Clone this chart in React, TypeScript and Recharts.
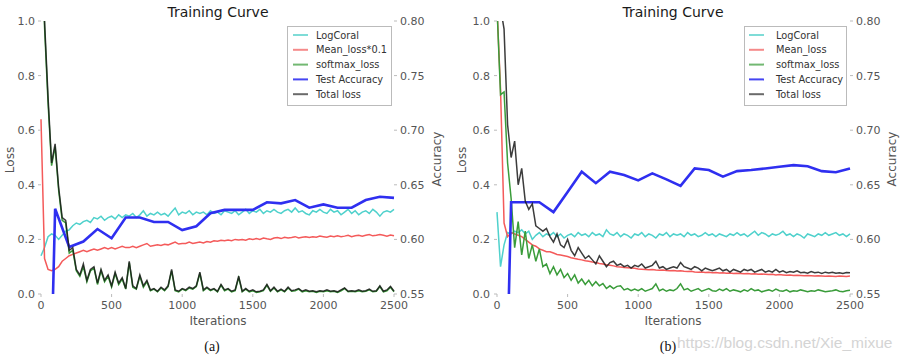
import React from 'react';
import { LineChart, Line, XAxis, YAxis } from 'recharts';

const ITERATIONS = [
  0, 25, 50, 75, 100, 125, 150, 175, 200, 225,
  250, 275, 300, 325, 350, 375, 400, 425, 450, 475,
  500, 525, 550, 575, 600, 625, 650, 675, 700, 725,
  750, 775, 800, 825, 850, 875, 900, 925, 950, 975,
  1000, 1025, 1050, 1075, 1100, 1125, 1150, 1175, 1200, 1225,
  1250, 1275, 1300, 1325, 1350, 1375, 1400, 1425, 1450, 1475,
  1500, 1525, 1550, 1575, 1600, 1625, 1650, 1675, 1700, 1725,
  1750, 1775, 1800, 1825, 1850, 1875, 1900, 1925, 1950, 1975,
  2000, 2025, 2050, 2075, 2100, 2125, 2150, 2175, 2200, 2225,
  2250, 2275, 2300, 2325, 2350, 2375, 2400, 2425, 2450, 2475,
  2500,
];

// ---------- panel (a) ----------
const A_LOGCORAL = [
  0.14, 0.17, 0.21, 0.22, 0.215, 0.2, 0.215, 0.23, 0.235, 0.25,
  0.26, 0.255, 0.265, 0.27, 0.262, 0.28, 0.275, 0.285, 0.27, 0.28,
  0.285, 0.275, 0.29, 0.28, 0.29, 0.285, 0.295, 0.28, 0.29, 0.305,
  0.285, 0.295, 0.29, 0.3, 0.29, 0.295, 0.285, 0.3, 0.315, 0.29,
  0.3, 0.295, 0.305, 0.29, 0.3, 0.295, 0.3, 0.29, 0.305, 0.295,
  0.3, 0.29, 0.305, 0.3, 0.295, 0.305, 0.29, 0.3, 0.31, 0.295,
  0.305, 0.3, 0.31, 0.295, 0.305, 0.3, 0.31, 0.3, 0.295, 0.305,
  0.31, 0.3, 0.315, 0.3, 0.305, 0.295, 0.29, 0.305, 0.3, 0.31,
  0.3, 0.295, 0.31, 0.3, 0.305, 0.29, 0.3, 0.31, 0.295, 0.305,
  0.29, 0.3, 0.305, 0.295, 0.31, 0.3, 0.285, 0.3, 0.305, 0.3,
  0.31,
];
const A_MEAN = [
  0.64, 0.13, 0.09, 0.085, 0.09, 0.1, 0.12, 0.13, 0.14, 0.145,
  0.15, 0.155, 0.16, 0.155, 0.16, 0.165, 0.16, 0.165, 0.17, 0.165,
  0.17, 0.165, 0.17, 0.175, 0.17, 0.17, 0.175, 0.17, 0.175, 0.18,
  0.185, 0.175, 0.178, 0.18, 0.178, 0.182, 0.18, 0.185, 0.19, 0.183,
  0.185, 0.185, 0.19, 0.185, 0.188, 0.19, 0.187, 0.192, 0.19, 0.195,
  0.193, 0.197, 0.195, 0.198, 0.195, 0.2, 0.198, 0.2, 0.197, 0.202,
  0.2, 0.203, 0.2, 0.205, 0.202, 0.2, 0.205, 0.207, 0.203, 0.208,
  0.205, 0.207, 0.21, 0.205, 0.208, 0.21, 0.207, 0.21, 0.208, 0.212,
  0.21, 0.208, 0.212, 0.21, 0.213, 0.21, 0.212, 0.215, 0.21, 0.213,
  0.215, 0.212, 0.215, 0.218, 0.213, 0.215, 0.218, 0.215, 0.212, 0.216,
  0.213,
];
const A_SOFTMAX = [
  1.55, 0.98, 0.7, 0.47, 0.54, 0.38, 0.27, 0.26, 0.15, 0.16,
  0.085, 0.065, 0.1, 0.045, 0.085, 0.095, 0.035, 0.085, 0.045, 0.065,
  0.025, 0.075, 0.035, 0.055, 0.018, 0.115, 0.025, 0.018, 0.065, 0.025,
  0.045, 0.012, 0.018, 0.008, 0.022, 0.012, 0.027, 0.085, 0.012, 0.008,
  0.018, 0.012, 0.022, 0.018, 0.027, 0.075, 0.012, 0.022, 0.012, 0.018,
  0.008, 0.032, 0.012, 0.018, 0.008, 0.012, 0.06, 0.008, 0.018, 0.008,
  0.012, 0.006, 0.008, 0.012, 0.032, 0.01, 0.022, 0.008, 0.015, 0.008,
  0.022, 0.01, 0.012, 0.018, 0.008, 0.012, 0.008, 0.01, 0.006, 0.01,
  0.008, 0.012, 0.008, 0.01, 0.006, 0.012, 0.02, 0.008, 0.01, 0.008,
  0.012, 0.008, 0.01, 0.015, 0.008, 0.01, 0.027, 0.008, 0.012, 0.025,
  0.008,
];
const A_TOTAL = [
  1.6, 1.0, 0.72, 0.48, 0.55, 0.39, 0.28, 0.27, 0.16, 0.17,
  0.09, 0.07, 0.11, 0.05, 0.09, 0.1, 0.04, 0.09, 0.05, 0.07,
  0.03, 0.08, 0.04, 0.06, 0.02, 0.12, 0.03, 0.02, 0.07, 0.03,
  0.05, 0.015, 0.02, 0.01, 0.025, 0.015, 0.03, 0.09, 0.015, 0.01,
  0.02, 0.015, 0.025, 0.02, 0.03, 0.08, 0.015, 0.025, 0.015, 0.02,
  0.01, 0.035, 0.015, 0.02, 0.01, 0.015, 0.065, 0.01, 0.02, 0.01,
  0.015, 0.008, 0.01, 0.015, 0.035, 0.012, 0.025, 0.01, 0.018, 0.01,
  0.025, 0.012, 0.015, 0.02, 0.01, 0.015, 0.01, 0.012, 0.008, 0.012,
  0.01, 0.015, 0.01, 0.012, 0.008, 0.015, 0.022, 0.01, 0.012, 0.01,
  0.015, 0.01, 0.012, 0.018, 0.01, 0.012, 0.03, 0.01, 0.015, 0.028,
  0.01,
];

// ---------- panel (b) ----------
const B_LOGCORAL = [
  0.3, 0.1, 0.18, 0.225, 0.22, 0.23, 0.225, 0.235, 0.22, 0.23,
  0.2, 0.215, 0.225, 0.21, 0.22, 0.215, 0.225, 0.21, 0.22, 0.205,
  0.215, 0.22, 0.21, 0.225, 0.215, 0.22, 0.21, 0.225, 0.215, 0.22,
  0.21, 0.235, 0.22, 0.215, 0.225, 0.21, 0.22, 0.215, 0.205, 0.22,
  0.215, 0.225, 0.21, 0.22, 0.215, 0.205, 0.22, 0.215, 0.225, 0.21,
  0.22, 0.215, 0.22, 0.21, 0.225, 0.215, 0.22, 0.21, 0.215, 0.225,
  0.215, 0.22, 0.21, 0.22, 0.215, 0.21, 0.22, 0.215, 0.225, 0.215,
  0.22, 0.21, 0.22, 0.23, 0.215, 0.225, 0.22, 0.21, 0.22, 0.215,
  0.22, 0.23, 0.215, 0.22, 0.21, 0.22, 0.215, 0.205, 0.22, 0.215,
  0.21, 0.22, 0.215, 0.225, 0.215, 0.22, 0.225, 0.215, 0.22, 0.21,
  0.22,
];
const B_MEAN = [
  1.05, 0.75, 0.26, 0.21, 0.225, 0.22, 0.215, 0.21, 0.2, 0.19,
  0.18, 0.175, 0.165, 0.16, 0.155, 0.155, 0.15, 0.145, 0.143, 0.14,
  0.137, 0.133, 0.13, 0.127, 0.125, 0.122, 0.12, 0.117, 0.115, 0.112,
  0.11, 0.107, 0.105, 0.103, 0.1, 0.099, 0.097, 0.096, 0.095, 0.094,
  0.092, 0.091, 0.09, 0.089, 0.09, 0.088, 0.087, 0.088, 0.086, 0.085,
  0.086, 0.084, 0.085, 0.083, 0.082, 0.083, 0.081, 0.08, 0.081, 0.079,
  0.08, 0.078, 0.079, 0.077, 0.078, 0.076, 0.077, 0.075, 0.076, 0.075,
  0.074, 0.075, 0.073, 0.074, 0.072, 0.073, 0.072, 0.071, 0.072, 0.07,
  0.071, 0.07, 0.069, 0.07, 0.068, 0.069, 0.068, 0.067, 0.068, 0.067,
  0.066, 0.067, 0.066, 0.065, 0.066, 0.065, 0.064, 0.066, 0.065, 0.064,
  0.066,
];
const B_SOFTMAX = [
  1.05, 0.73, 0.74, 0.48, 0.35, 0.17, 0.265, 0.143, 0.23, 0.13,
  0.18, 0.12, 0.165, 0.1, 0.11, 0.075, 0.1, 0.07, 0.09, 0.06,
  0.075, 0.05, 0.07, 0.04, 0.055, 0.035, 0.05, 0.03, 0.045, 0.03,
  0.038, 0.02, 0.03, 0.02, 0.028, 0.03, 0.015, 0.02, 0.012, 0.018,
  0.012, 0.02, 0.01, 0.015, 0.02, 0.037, 0.012, 0.018, 0.01, 0.015,
  0.012, 0.02, 0.037, 0.015, 0.02, 0.01, 0.015, 0.02, 0.01, 0.015,
  0.02, 0.012, 0.01, 0.018, 0.012, 0.02, 0.01, 0.015, 0.012, 0.008,
  0.015, 0.01, 0.02, 0.012, 0.015, 0.008, 0.012, 0.015, 0.01, 0.018,
  0.012, 0.01, 0.015, 0.008, 0.012, 0.01, 0.015, 0.012, 0.008, 0.012,
  0.01, 0.015, 0.012, 0.008, 0.01, 0.012, 0.015, 0.01, 0.008, 0.012,
  0.014,
];
const B_TOTAL = [
  1.3, 1.05, 0.97, 0.62, 0.5, 0.56, 0.4, 0.46, 0.34, 0.31,
  0.33, 0.25, 0.24, 0.23, 0.24, 0.21, 0.19, 0.22, 0.18, 0.17,
  0.2, 0.16, 0.14, 0.17, 0.15, 0.13, 0.14, 0.125, 0.11, 0.14,
  0.12, 0.1, 0.115, 0.12, 0.105, 0.11, 0.1, 0.105, 0.095, 0.105,
  0.1, 0.11, 0.095, 0.1, 0.105, 0.12, 0.095, 0.1, 0.09, 0.095,
  0.1, 0.095, 0.115, 0.1, 0.095, 0.09, 0.1, 0.095, 0.085, 0.095,
  0.09, 0.085, 0.09, 0.095, 0.085, 0.09, 0.08, 0.09, 0.085, 0.08,
  0.09, 0.085, 0.09, 0.08, 0.085, 0.09, 0.08, 0.085, 0.08, 0.09,
  0.08, 0.085, 0.078, 0.082, 0.08, 0.085, 0.078, 0.08, 0.076, 0.082,
  0.078, 0.08, 0.075, 0.08, 0.077, 0.08, 0.076, 0.078, 0.075, 0.079,
  0.078,
];

// ---------- test accuracy (every 100 iterations) ----------
const ACC_ITERATIONS = [
  0, 100, 200, 300, 400, 500, 600, 700, 800, 900, 1000, 1100, 1200,
  1300, 1400, 1500, 1600, 1700, 1800, 1900, 2000, 2100, 2200, 2300, 2400, 2500,
];
const A_ACCURACY = [
  0.1, 0.628, 0.593, 0.598, 0.6095, 0.601, 0.62, 0.62, 0.616, 0.616, 0.6085, 0.612, 0.624,
  0.627, 0.627, 0.627, 0.634, 0.633, 0.636, 0.629, 0.632, 0.629, 0.629, 0.636, 0.639, 0.638,
];
const B_ACCURACY = [
  0.1, 0.634, 0.634, 0.634, 0.625, 0.6435, 0.662, 0.6515, 0.662, 0.659, 0.654, 0.6605, 0.655,
  0.649, 0.665, 0.6635, 0.6575, 0.6625, 0.6635, 0.665, 0.6665, 0.668, 0.667, 0.6625, 0.6615, 0.665,
];

const X_TICKS = [0, 500, 1000, 1500, 2000, 2500];
const LOSS_TICKS = [0, 0.2, 0.4, 0.6, 0.8, 1.0];
const ACC_TICKS = [0.55, 0.6, 0.65, 0.7, 0.75, 0.8];

const A_NAMES = ['LogCoral', 'Mean_loss*0.1', 'softmax_loss', 'Test Accuracy', 'Total loss'];
const B_NAMES = ['LogCoral', 'Mean_loss', 'softmax_loss', 'Test Accuracy', 'Total loss'];
const COLORS = ['#4fd1cc', '#f45a5a', '#3a9c3a', '#2f2ff0', '#1a1a1a'];
const LEGEND_COLORS = ['#7fdcd7', '#f58a8a', '#72b872', '#4545f2', '#6a6a6a'];

const FONT = '"DejaVu Sans", sans-serif';

function buildRows(coral: number[], mean: number[], softmax: number[], total: number[]) {
  return ITERATIONS.map((it, i) => ({
    iter: it,
    coral: coral[i],
    mean: mean[i],
    softmax: softmax[i],
    total: total[i],
  }));
}
function buildAcc(acc: number[]) {
  return ACC_ITERATIONS.map((it, i) => ({ iter: it, acc: acc[i] }));
}

const A_ROWS = buildRows(A_LOGCORAL, A_MEAN, A_SOFTMAX, A_TOTAL);
const B_ROWS = buildRows(B_LOGCORAL, B_MEAN, B_SOFTMAX, B_TOTAL);
const A_ACC_ROWS = buildAcc(A_ACCURACY);
const B_ACC_ROWS = buildAcc(B_ACCURACY);

const tickStyle = { fill: '#555', fontSize: 11, fontFamily: FONT };

function Panel(props: {
  left: number;
  rows: any[];
  accRows: any[];
  leftW: number;
  rightW: number;
}) {
  const { left, rows, accRows, leftW, rightW } = props;
  return (
    <div style={{ position: 'absolute', left, top: 0 }}>
      <LineChart width={452} height={360} data={rows} margin={{ top: 21, right: 0, bottom: 46, left: 0 }}>
        <XAxis
          dataKey="iter"
          type="number"
          domain={[0, 2500]}
          ticks={X_TICKS}
          interval={0}
          height={20}
          axisLine={false}
          tickLine={{ stroke: '#bbb' }}
          tickSize={3}
          tickMargin={4}
          tick={tickStyle}
        />
        <YAxis
          yAxisId="loss"
          domain={[0, 1]}
          ticks={LOSS_TICKS}
          interval={0}
          allowDataOverflow
          width={leftW}
          axisLine={false}
          tickLine={{ stroke: '#bbb' }}
          tickSize={3}
          tickMargin={leftW === 41 ? 3 : 4}
          tick={tickStyle}
          tickFormatter={(v: number) => v.toFixed(1)}
        />
        <YAxis
          yAxisId="acc"
          orientation="right"
          domain={[0.55, 0.8]}
          ticks={ACC_TICKS}
          interval={0}
          allowDataOverflow
          width={rightW}
          axisLine={false}
          tickLine={{ stroke: '#bbb' }}
          tickSize={3}
          tickMargin={3}
          tick={tickStyle}
          tickFormatter={(v: number) => v.toFixed(2)}
        />
        <Line yAxisId="loss" dataKey="coral" stroke={COLORS[0]} strokeWidth={1.5} dot={false} isAnimationActive={false} />
        <Line yAxisId="loss" dataKey="mean" stroke={COLORS[1]} strokeWidth={1.5} dot={false} isAnimationActive={false} />
        <Line yAxisId="loss" dataKey="softmax" stroke={COLORS[2]} strokeWidth={1.5} dot={false} isAnimationActive={false} />
        <Line yAxisId="acc" data={accRows} dataKey="acc" stroke={COLORS[3]} strokeWidth={2.6} dot={false} isAnimationActive={false} />
        <Line yAxisId="loss" dataKey="total" stroke={COLORS[4]} strokeOpacity={0.85} strokeWidth={1.5} dot={false} isAnimationActive={false} />
      </LineChart>
    </div>
  );
}

function LegendBox(props: { x: number; y: number; w: number; names: string[]; lineX: number; textX: number }) {
  const { x, y, w, names, lineX, textX } = props;
  return (
    <g>
      <rect x={x + 0.5} y={y + 0.5} width={w} height={79} fill="#fff" stroke="#bbb" strokeWidth={1} />
      {names.map((n, i) => {
        const cy = y + 9 + i * 14.8;
        return (
          <g key={n}>
            <line x1={lineX} x2={lineX + 15} y1={cy} y2={cy} stroke={LEGEND_COLORS[i]} strokeWidth={2} />
            <text x={textX} y={cy + 3.5} fontSize={9.8} fill="#333" fontFamily={FONT}>
              {n}
            </text>
          </g>
        );
      })}
    </g>
  );
}

export default function App() {
  return (
    <div style={{ position: 'absolute', left: 0, top: 0, width: 904, height: 360, background: '#fff', overflow: 'hidden' }}>
      <Panel left={0} rows={A_ROWS} accRows={A_ACC_ROWS} leftW={41} rightW={58} />
      <Panel left={452} rows={B_ROWS} accRows={B_ACC_ROWS} leftW={45} rightW={54} />
      <svg width={904} height={360} style={{ position: 'absolute', left: 0, top: 0, pointerEvents: 'none' }}>
        <text x={218} y={17} textAnchor="middle" fontSize={14} fill="#1a1a1a" fontFamily={FONT}>Training Curve</text>
        <text x={673} y={17} textAnchor="middle" fontSize={14} fill="#1a1a1a" fontFamily={FONT}>Training Curve</text>
        <text transform="translate(14,160) rotate(-90)" textAnchor="middle" fontSize={12} fill="#555" fontFamily={FONT}>Loss</text>
        <text transform="translate(466,160) rotate(-90)" textAnchor="middle" fontSize={12} fill="#555" fontFamily={FONT}>Loss</text>
        <text transform="translate(441,159) rotate(-90)" textAnchor="middle" fontSize={12} fill="#555" fontFamily={FONT}>Accuracy</text>
        <text transform="translate(896,159) rotate(-90)" textAnchor="middle" fontSize={12} fill="#555" fontFamily={FONT}>Accuracy</text>
        <text x={218} y={325} textAnchor="middle" fontSize={12} fill="#555" fontFamily={FONT}>Iterations</text>
        <text x={673} y={325} textAnchor="middle" fontSize={12} fill="#555" fontFamily={FONT}>Iterations</text>
        <text x={212} y={351} textAnchor="middle" fontSize={14} fill="#111" fontFamily='"Liberation Serif", serif'>(a)</text>
        <text x={677} y={348} fontSize={15.5} fill="#d4d4d4" fontFamily='"Liberation Sans", sans-serif'>https://blog.csdn.net/Xie_mixue</text>
        <text x={668} y={351} textAnchor="middle" fontSize={14} fill="#111" fontFamily='"Liberation Serif", serif'>(b)</text>
        <LegendBox x={287} y={26} w={104} names={A_NAMES} lineX={293} textX={316} />
        <LegendBox x={744} y={26} w={102} names={B_NAMES} lineX={749} textX={776} />
      </svg>
    </div>
  );
}
